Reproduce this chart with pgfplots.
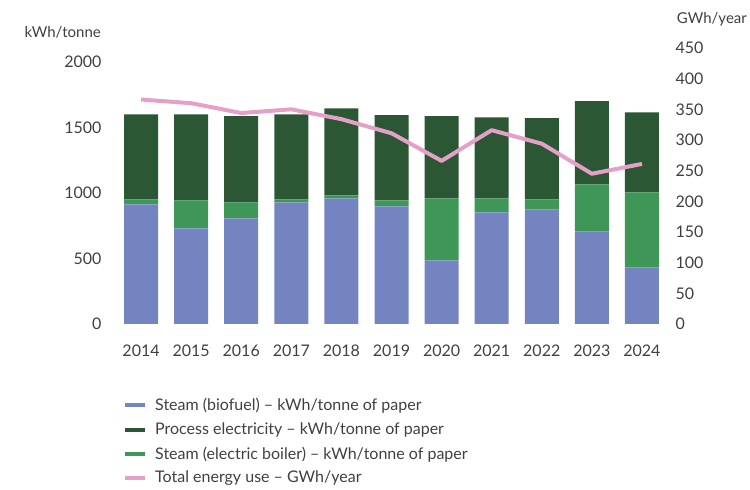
\documentclass[border=0pt]{standalone}
\usepackage{pgfplots}
\pgfplotsset{compat=1.18}
\usepackage{fontspec}
\setmainfont{Lato}
\definecolor{bio}{RGB}{115,132,193}
\definecolor{proc}{RGB}{43,87,52}
\definecolor{elec}{RGB}{62,150,87}
\definecolor{tot}{RGB}{230,160,200}
\definecolor{txt}{RGB}{64,64,64}
\begin{document}
\begin{tikzpicture}[font=\fontsize{16}{19}\selectfont, text=txt]
\path[use as bounding box] (0,0) rectangle (750pt,490pt);
\pgfplotsset{
  common/.style={
    at={(116pt,166pt)}, anchor=south west, scale only axis,
    width=551pt, height=276pt, xmin=-0.5, xmax=10.5, enlargelimits=false,
    major tick length=0pt, axis line style={draw=none},
    /pgf/number format/assume math mode=true, /pgf/number format/1000 sep={},
    tick label style={font=\fontsize{16}{19}\selectfont, text=txt},
  }
}
\begin{axis}[common,
  ybar stacked, bar width=34pt,
  ymin=0, ymax=2107,
  xtick={0,1,2,3,4,5,6,7,8,9,10},
  xticklabels={2014,2015,2016,2017,2018,2019,2020,2021,2022,2023,2024},
  ytick={0,500,1000,1500,2000},
  yticklabel style={anchor=east, xshift=-11pt},
  xticklabel style={anchor=north, yshift=-17pt},
]
\addplot[fill=bio, draw=none] coordinates {(0,913) (1,730) (2,806) (3,929) (4,959) (5,898) (6,485) (7,852) (8,875) (9,707) (10,432)};
\addplot[fill=elec, draw=none] coordinates {(0,38) (1,214) (2,123) (3,22) (4,23) (5,46) (6,474) (7,107) (8,76) (9,359) (10,573)};
\addplot[fill=proc, draw=none] coordinates {(0,650) (1,657) (2,657) (3,650) (4,665) (5,650) (6,627) (7,619) (8,620) (9,635) (10,611)};
\end{axis}
\begin{axis}[common,
  ymin=0, ymax=450,
  hide x axis, axis y line*=right,
  ytick={0,50,100,150,200,250,300,350,400,450},
  yticklabel style={anchor=west, xshift=5pt},
  legend style={at={(0.0127,-0.262)}, anchor=north west, draw=none, fill=none,
    inner sep=0pt, row sep=6.5pt, font=\fontsize{16}{19}\selectfont, text=txt,
    nodes={inner sep=2pt, text=txt},
    /tikz/every odd column/.append style={column sep=6pt}},
  legend cell align=left,
  legend image code/.code={\draw[#1, line width=4pt] (0pt,0pt) -- (20pt,0pt);},
]
\addlegendimage{bio}
\addlegendentry{Steam (biofuel) – kWh/tonne of paper}
\addlegendimage{proc}
\addlegendentry{Process electricity – kWh/tonne of paper}
\addlegendimage{elec}
\addlegendentry{Steam (electric boiler) – kWh/tonne of paper}
\addplot[tot, line width=4pt, line join=round, mark=none] coordinates {(0,366) (1,360) (2,344) (3,350) (4,334) (5,311) (6,266) (7,316) (8,294) (9,245) (10,261)};
\addlegendentry{Total energy use – GWh/year}
\end{axis}
\node[anchor=east, inner sep=0pt, font=\fontsize{15}{18}\selectfont] at (101pt,458pt) {kWh/tonne};
\node[anchor=east, inner sep=0pt, font=\fontsize{15}{18}\selectfont] at (747pt,471pt) {GWh/year};
\end{tikzpicture}
\end{document}
